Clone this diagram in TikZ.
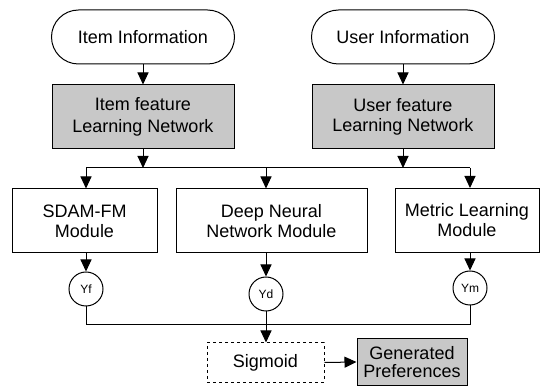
\documentclass[tikz,border=0pt]{standalone}
\usepackage{fontspec}
\setmainfont{Liberation Sans}
\usetikzlibrary{arrows.meta,positioning,calc}
\definecolor{boxgray}{RGB}{200,200,200}
\tikzset{
  base/.style={draw=black, line width=1pt, align=center, inner sep=0pt,
    font=\fontsize{18}{20}\selectfont},
  terminal/.style={base, rounded corners=27pt, minimum width=183pt, minimum height=54pt},
  netbox/.style={base, fill=boxgray, minimum width=182pt, minimum height=64pt},
  modbox/.style={base, minimum height=64pt},
  outcircle/.style={draw=black, line width=1pt, circle, minimum size=34pt, inner sep=0pt,
    font=\fontsize{12}{13}\selectfont},
  link/.style={draw=black, line width=1pt},
  arrow/.style={link, -{Triangle[length=12pt,width=11pt]}}
}
\begin{document}
\begin{tikzpicture}[x=1pt,y=-1pt]
  \useasboundingbox (0,0) rectangle (541,387);

  % inputs
  \node[terminal] (iteminfo) at (143,37) {Item Information};
  \node[terminal] (userinfo) at (403,37) {User Information};

  % feature learning networks
  \node[netbox] (itemnet) at (143,117) {Item feature\\[2pt]Learning Network};
  \node[netbox] (usernet) at (403,117) {User feature\\Learning Network};

  % shared bus feeding the three modules
  \coordinate (busL) at (86,168);
  \coordinate (busR) at (470,168);

  % prediction modules
  \node[modbox, minimum width=145pt] (sdam) at (84.5,221) {SDAM-FM\\Module};
  \node[modbox, minimum width=191pt] (dnn) at (271.5,221) {Deep Neural\\Network Module};
  \node[modbox, minimum width=144pt] (metric) at (467,220.5) {Metric Learning\\Module};

  % module outputs
  \node[outcircle] (yf) at (86,289) {Yf};
  \node[outcircle] (yd) at (266,294) {Yd};
  \node[outcircle] (ym) at (470,288) {Ym};

  % output bus
  \coordinate (outL) at (86,325);
  \coordinate (outR) at (470,325);

  % final stage
  \node[base, dashed, minimum width=117pt, minimum height=39pt] (sigmoid) at (265.5,362.5) {Sigmoid};
  \node[base, fill=boxgray, minimum width=110pt, minimum height=46pt,
        font=\fontsize{18}{18.5}\selectfont] (gen) at (412,362) {Generated\\Preferences};

  % connectors
  \draw[arrow] (iteminfo.south) -- (itemnet.north);
  \draw[arrow] (userinfo.south) -- (usernet.north);
  \draw[link] (busL) -- (busR);
  \draw[arrow] (itemnet.south) -- (itemnet.south |- busL);
  \draw[arrow] (usernet.south) -- (usernet.south |- busL);

  \draw[arrow] (busL) -- (busL |- sdam.north);
  \draw[arrow] (yd |- busL) -- (yd |- dnn.north);
  \draw[arrow] (busR) -- (busR |- metric.north);

  \draw[arrow] (yf |- sdam.south) -- (yf.north);
  \draw[arrow] (yd |- dnn.south) -- (yd.north);
  \draw[arrow] (ym |- metric.south) -- (ym.north);

  \draw[link] (yf.south) -- (outL) -- (outR) -- (ym.south);
  \draw[link] (yd.south) -- (yd |- outL);
  \draw[arrow] (yd |- outL) -- (yd |- sigmoid.north);
  \draw[arrow] (sigmoid.east) -- (gen.west);
\end{tikzpicture}
\end{document}
